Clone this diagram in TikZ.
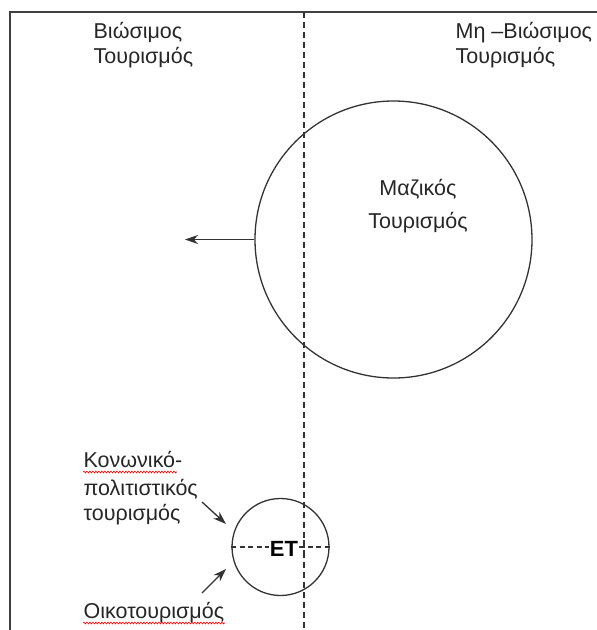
\documentclass[tikz,border=0pt]{standalone}
\usepackage{fontspec}
\setmainfont{Liberation Sans}
\usetikzlibrary{arrows.meta, positioning, decorations.pathmorphing}

\begin{document}
\begin{tikzpicture}
	[x=1pt, y=-1pt, >={Stealth[length=13pt,width=9pt,inset=4pt]}, line width=1.3pt, draw=black!80,
	txt/.style={inner sep=0pt, anchor=base west, font=\fontsize{21.5}{26}\selectfont, text=black!85},
	big circle/.style={circle, draw, minimum size=277pt, inner sep=0pt},
	small circle/.style={circle, draw, minimum size=97pt, inner sep=0pt},
	squiggle/.style={red, line width=0.6pt, decorate, decoration={snake, amplitude=0.9pt, segment length=3pt}}]
	\useasboundingbox (0,0) rectangle (597,630);
	% frame and divider
	\coordinate (TL) at (10,12);
	\coordinate (TR) at (597,12);
	\coordinate (BL) at (10,630);
	\coordinate (DT) at (304,12);
	\coordinate (DB) at (304,630);
	\draw[black!75] (TR) -- (TL) -- (BL);
	\draw[dashed, dash pattern=on 6pt off 4pt] (DT) -- (DB);
	% headings
	\node (S1) [txt] at (93,38) {Βιώσιμος};
	\node (S2) [txt] at (93,63) {Τουρισμός};
	\node (N1) [txt] at (455,38) {Μη –Βιώσιμος};
	\node (N2) [txt] at (455,63) {Τουρισμός};
	% mass tourism
	\node (M) [big circle] at (393.5,239.5) {};
	\node (M1) [txt, anchor=base] at (418,195) {Μαζικός};
	\node (M2) [txt, anchor=base] at (418,228) {Τουρισμός};
	\coordinate (Mto) at (185,239.5);
	\draw[->] (M.west) -- (Mto);
	% ET
	\node (E) [small circle] at (280.5,547) {};
	\draw[dashed, dash pattern=on 5pt off 3.5pt] (E.west) -- (E.east);
	\node (ET) [inner sep=0.5pt, fill=white, font=\fontsize{22}{24}\selectfont\bfseries] at (284,549) {ET};
	\draw[dashed, dash pattern=on 6pt off 4pt] (ET.north -| DT) -- (ET.south -| DT);
	% labels
	\node (K1) [txt] at (83,467) {Κονωνικό-};
	\node (K2) [txt] at (83,495) {πολιτιστικός};
	\node (K3) [txt] at (83,520) {τουρισμός};
	\node (O) [txt] at (83,618) {Οικοτουρισμός};
	\draw[squiggle] ([yshift=-5pt]K1.base west) -- ([yshift=-5pt,xshift=-6pt]K1.base east);
	\draw[squiggle] ([yshift=-5pt]O.base west) -- ([yshift=-5pt]O.base east);
	\coordinate (A1) at (202,502);
	\coordinate (A2) at (226,524);
	\coordinate (B1) at (202,593);
	\coordinate (B2) at (226,569);
	\draw[->] (A1) -- (A2);
	\draw[->] (B1) -- (B2);
\end{tikzpicture}
\end{document}
